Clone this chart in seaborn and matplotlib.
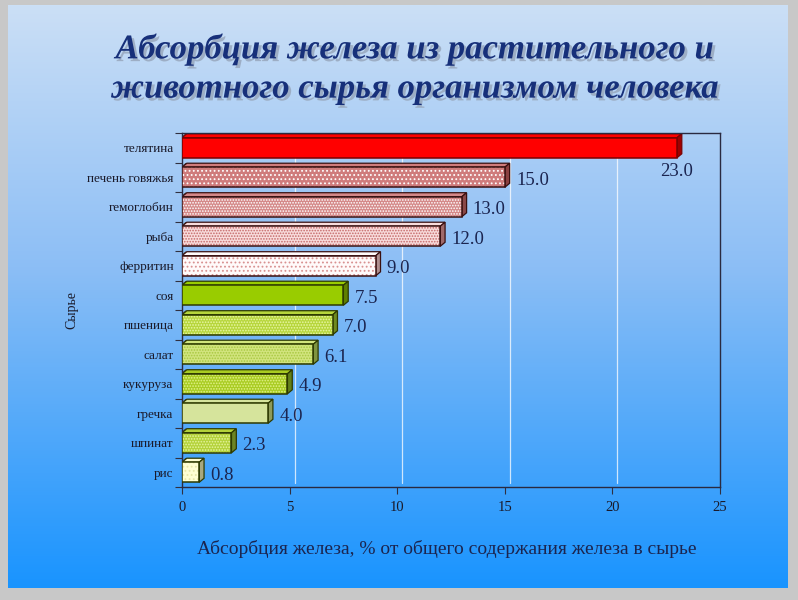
import numpy as np
import pandas as pd
import matplotlib
matplotlib.use('Agg')
import matplotlib.pyplot as plt
import matplotlib.transforms as mtransforms
import matplotlib.patheffects as pe
from matplotlib.patches import Polygon, Rectangle
import seaborn as sns

# chart data
products = ['телятина', 'печень говяжья', 'гемоглобин', 'рыба', 'ферритин', 'соя',
            'пшеница', 'салат', 'кукуруза', 'гречка', 'шпинат', 'рис']
absorption = [23.0, 15.0, 13.0, 12.0, 9.0, 7.5, 7.0, 6.1, 4.9, 4.0, 2.3, 0.8]
x_ticks = [0, 5, 10, 15, 20, 25]

title = 'Абсорбция железа из растительного и\nживотного сырья организмом человека'
x_title = 'Абсорбция железа, % от общего содержания железа в сырье'
y_title = 'Сырье'

# fill, hatch, hatch colour, outline, side face
styles = [
    ('#ff0000', '', None, '#7a0000', '#a00000'),
    ('#cf7c7c', '....', '#ffffff', '#3a1010', '#8a4040'),
    ('#d48888', '......', '#ffffff', '#3a1010', '#8a4848'),
    ('#f8dcdc', '......', '#c46868', '#3a1010', '#a06a6a'),
    ('#fffafa', '....', '#d89090', '#3a1010', '#b09090'),
    ('#99cc00', '', None, '#2e3a00', '#5f7f00'),
    ('#b7d63c', '......', '#eaf7a8', '#2e3a00', '#6f8a20'),
    ('#d2e47e', '......', '#a8c840', '#2e3a00', '#7f9440'),
    ('#a9cc22', '......', '#e3f28a', '#2e3a00', '#64801a'),
    ('#d6e49c', '', None, '#2e3a00', '#8e9a5a'),
    ('#b4d23a', '......', '#e6f4a0', '#2e3a00', '#6c8424'),
    ('#ffffd2', '....', '#e8e8a8', '#2e3a00', '#a8a880'),
]

navy = '#17307a'
text_dark = '#1b2550'
serif = ['Liberation Serif', 'DejaVu Serif']

sns.set_theme(style='white')
plt.rcParams['font.family'] = serif
plt.rcParams['hatch.linewidth'] = 0.8

df = pd.DataFrame({'product': products, 'value': absorption})

fig = plt.figure(figsize=(7.98, 6.0), dpi=100)
fig.patch.set_facecolor('#c8c8c8')

# slide background with vertical gradient
bg = fig.add_axes([8 / 798, 12 / 600, 780 / 798, 583 / 600])
grad = np.linspace(0, 1, 256)[:, None]
top = np.array([203, 223, 246]) / 255
mid = np.array([140, 190, 245]) / 255
bot = np.array([25, 148, 255]) / 255
cols = np.where(grad[..., None] < 0.45,
                top + (mid - top) * (grad[..., None] / 0.45),
                mid + (bot - mid) * ((grad[..., None] - 0.45) / 0.55))
bg.imshow(cols, aspect='auto', extent=[0, 1, 0, 1])
bg.set_axis_off()

ax = fig.add_axes([182 / 798, 1 - 487 / 600, 538 / 798, 354 / 600])
ax.patch.set_alpha(0)

sns.barplot(data=df, x='value', y='product', orient='h', width=0.68,
            color='white', ax=ax, zorder=3)

dx, dy = 5, 4
depth = mtransforms.ScaledTranslation(dx / 100, dy / 100, fig.dpi_scale_trans)
back = ax.transData + depth

# white grid lines on the back wall
for t in x_ticks[1:-1]:
    ax.plot([t, t], [-0.5, 11.5], color='white', lw=0.9, alpha=0.75, transform=back, zorder=1)

disp = ax.transData
inv = ax.transData.inverted()
for patch, (fc, hatch, hc, ec, side) in zip(ax.patches, styles):
    x0, y0 = patch.get_x(), patch.get_y()
    w, h = patch.get_width(), patch.get_height()
    patch.set_facecolor(fc)
    patch.set_linewidth(0)
    if hatch:
        patch.set_hatch(hatch)
        patch.set_edgecolor(hc)
    ax.add_patch(Rectangle((x0, y0), w, h, fill=False, edgecolor=ec, lw=1.1, zorder=4))
    # top face (y axis is inverted, so y0 is the upper edge)
    p1 = disp.transform((x0, y0))
    p2 = disp.transform((x0 + w, y0))
    p3 = p2 + np.array([dx, dy])
    p4 = p1 + np.array([dx, dy])
    q1 = disp.transform((x0 + w, y0 + h))
    q2 = q1 + np.array([dx, dy])
    ax.add_patch(Polygon(inv.transform([p1, p2, p3, p4]), closed=True,
                         facecolor=fc, edgecolor=ec, lw=0.9, zorder=2.5))
    ax.add_patch(Polygon(inv.transform([p2, q1, q2, p3]), closed=True,
                         facecolor=side, edgecolor=ec, lw=0.9, zorder=2.5))
    # small grey wall piece on the left
    ax.add_patch(Polygon(inv.transform([p1 + [-1, 0], p1 + [dx - 1, dy], p1 + [dx - 1, dy - 10], p1 + [-1, -10]]),
                         closed=True, facecolor='#808080', edgecolor='#404040', lw=0.5, zorder=2))

for i, v in enumerate(absorption):
    if i == 0:
        ax.annotate(f'{v:.1f}', (v, i + 0.34), xytext=(0, -4), textcoords='offset points',
                    ha='center', va='top', fontsize=13.5, color=text_dark)
    else:
        ax.annotate(f'{v:.1f}', (v, i), xytext=(8, -2), textcoords='offset points',
                    ha='left', va='center', fontsize=13.5, color=text_dark)

ax.set_xlim(0, 25)
ax.set_ylim(11.5, -0.5)
ax.set_xticks(x_ticks)
ax.set_xticklabels([str(t) for t in x_ticks], fontsize=10.5, color='#1a1a2a')
ax.set_yticks(range(len(products)))
ax.set_yticklabels(products, fontsize=9.5, color='#1a1a2a')
ax.set_yticks(np.arange(-0.5, 12, 1), minor=True)
ax.tick_params(axis='y', which='major', length=0, pad=6)
ax.tick_params(axis='y', which='minor', length=5, width=0.8, color='#303040', direction='out', left=True)
ax.tick_params(axis='x', length=5, width=0.8, color='#303040', direction='out', bottom=True, pad=5)
ax.set_xlabel('')
ax.set_ylabel('')
for s in ax.spines.values():
    s.set_color('#2a2a40')
    s.set_linewidth(1.0)

fig.text(72 / 798, 1 - 310 / 600, y_title, rotation=90, ha='center', va='center',
         fontsize=10, color='#1a1a2a')
fig.text(447 / 798, 1 - 549 / 600, x_title, ha='center', va='center',
         fontsize=14, color=text_dark)

# title with soft shadow
fig.text(415 / 798, 1 - 69 / 600, title, ha='center', va='center', fontsize=25,
         fontweight='bold', fontstyle='italic', color=navy, linespacing=1.25,
         path_effects=[pe.SimplePatchShadow(offset=(2, -2), shadow_rgbFace='#9aaac0', alpha=0.9),
                       pe.Normal()])

fig.savefig('out.png', dpi=100, facecolor=fig.get_facecolor())
